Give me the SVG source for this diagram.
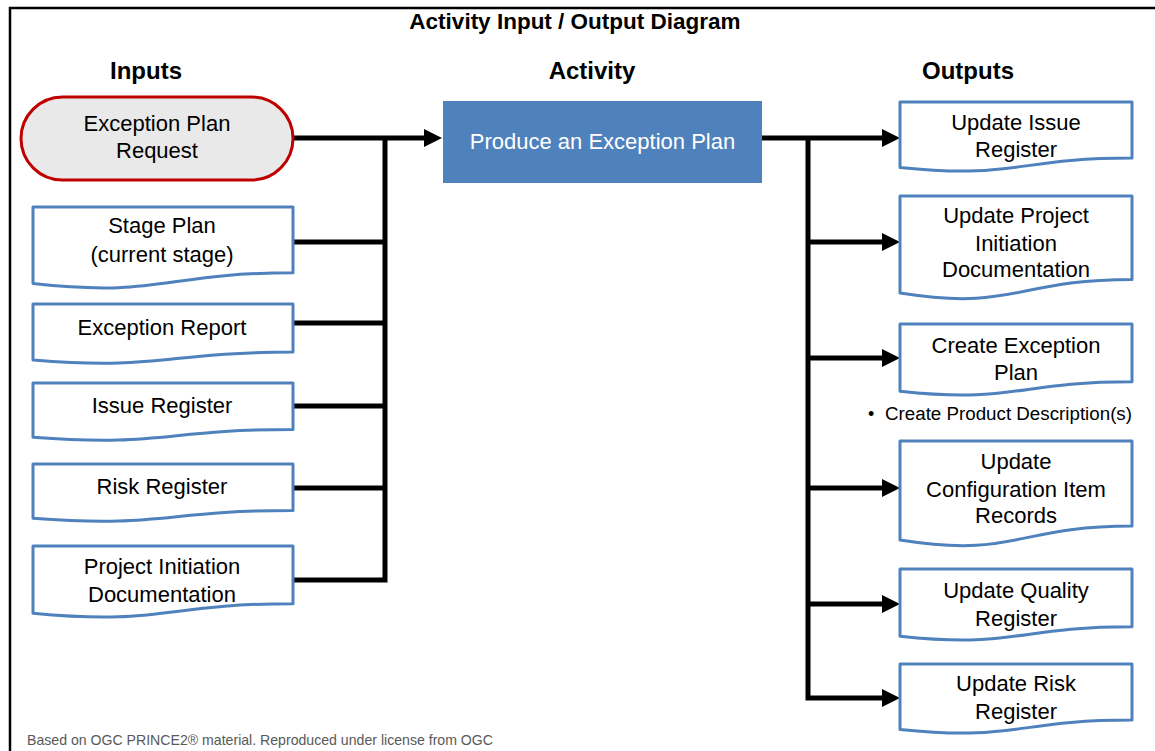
<svg xmlns="http://www.w3.org/2000/svg" width="1155" height="751" viewBox="0 0 1155 751">
<style>
  .t { font-family: "Liberation Sans", Arial, sans-serif; font-size: 22px; fill: #000; text-anchor: middle; }
  .h { font-family: "Liberation Sans", Arial, sans-serif; font-size: 24px; font-weight: bold; fill: #000; text-anchor: middle; }
  .doc { fill: #fff; stroke: #4F81BD; stroke-width: 3; stroke-linejoin: round; }
  .conn { fill: none; stroke: #000; stroke-width: 5; stroke-linejoin: miter; }
  .arr { marker-end: url(#ah); }
</style>
<defs>
  <marker id="ah" markerUnits="userSpaceOnUse" markerWidth="18" markerHeight="18" refX="4" refY="9" orient="auto">
    <path d="M0,0 L18,9 L0,18 Z" fill="#000"/>
  </marker>
</defs>
<rect width="1155" height="751" fill="#fff"/>
<rect x="10" y="8" width="1170" height="780" fill="none" stroke="#000" stroke-width="2.5"/>

<text x="575" y="29" class="h" style="font-size:22.5px">Activity Input / Output Diagram</text>
<text x="146" y="79" class="h">Inputs</text>
<text x="592" y="79" class="h">Activity</text>
<text x="968" y="79" class="h">Outputs</text>

<g id="connectors">
  <path class="conn arr" d="M293,138 H428"/>
  <path class="conn" d="M293,580 H385 V138"/>
  <path class="conn" d="M293,242 H385"/>
  <path class="conn" d="M293,323 H385"/>
  <path class="conn" d="M293,406 H385"/>
  <path class="conn" d="M293,488 H385"/>
  <path class="conn arr" d="M762,138 H886"/>
  <path class="conn arr" d="M808,138 V698 H886"/>
  <path class="conn arr" d="M808,242 H886"/>
  <path class="conn arr" d="M808,358 H886"/>
  <path class="conn arr" d="M808,488 H886"/>
  <path class="conn arr" d="M808,604 H886"/>
</g>

<g id="in-request">
  <rect x="21" y="97" width="272" height="83" rx="41.5" fill="#E9E9E9" stroke="#C00000" stroke-width="3"/>
  <text x="157" y="131" class="t">Exception Plan</text>
  <text x="157" y="158" class="t">Request</text>
</g>
<g id="in-stageplan">
  <path class="doc" d="M33,207 H293 V272.8 C163,272.8 163,297.8 33,283.6 Z"/>
  <text x="162" y="233" class="t">Stage Plan</text>
  <text x="162" y="262" class="t">(current stage)</text>
</g>
<g id="in-exreport">
  <path class="doc" d="M33,304 H293 V352.1 C163,352.1 163,370.5 33,360 Z"/>
  <text x="162" y="335" class="t">Exception Report</text>
</g>
<g id="in-issue">
  <path class="doc" d="M33,383 H293 V429.5 C163,429.5 163,447.2 33,437.2 Z"/>
  <text x="162" y="413" class="t">Issue Register</text>
</g>
<g id="in-risk">
  <path class="doc" d="M33,464 H293 V510.5 C163,510.5 163,528.2 33,518.2 Z"/>
  <text x="162" y="494" class="t">Risk Register</text>
</g>
<g id="in-pid">
  <path class="doc" d="M33,546 H293 V603.7 C163,603.7 163,625.7 33,613.2 Z"/>
  <text x="162" y="574" class="t">Project Initiation</text>
  <text x="162" y="602" class="t">Documentation</text>
</g>

<g id="activity">
  <rect x="443" y="101" width="319" height="82" fill="#4F81BD"/>
  <text x="602.5" y="149" class="t" style="fill:#fff">Produce an Exception Plan</text>
</g>

<g id="out-issue">
  <path class="doc" d="M900,102 H1132 V158.1 C1016,158.1 1016,179.5 900,167.4 Z"/>
  <text x="1016" y="130" class="t">Update Issue</text>
  <text x="1016" y="157" class="t">Register</text>
</g>
<g id="out-pid">
  <path class="doc" d="M900,196 H1132 V279.4 C1016,279.4 1016,311.2 900,293.1 Z"/>
  <text x="1016" y="223" class="t">Update Project</text>
  <text x="1016" y="251" class="t">Initiation</text>
  <text x="1016" y="277" class="t">Documentation</text>
</g>
<g id="out-explan">
  <path class="doc" d="M900,324 H1132 V381.7 C1016,381.7 1016,403.7 900,391.2 Z"/>
  <text x="1016" y="353" class="t">Create Exception</text>
  <text x="1016" y="380" class="t">Plan</text>
</g>
<g id="out-pd">
  <text x="868" y="420" style="font-family:'Liberation Sans',Arial,sans-serif;font-size:18px;fill:#000">•</text>
  <text x="885" y="420" style="font-family:'Liberation Sans',Arial,sans-serif;font-size:18px;fill:#000" textLength="247" lengthAdjust="spacingAndGlyphs">Create Product Description(s)</text>
</g>
<g id="out-cir">
  <path class="doc" d="M900,441 H1132 V526 C1016,526 1016,558.4 900,540 Z"/>
  <text x="1016" y="469" class="t">Update</text>
  <text x="1016" y="497" class="t">Configuration Item</text>
  <text x="1016" y="523" class="t">Records</text>
</g>
<g id="out-quality">
  <path class="doc" d="M900,569 H1132 V626.7 C1016,626.7 1016,648.7 900,636.2 Z"/>
  <text x="1016" y="598" class="t">Update Quality</text>
  <text x="1016" y="626" class="t">Register</text>
</g>
<g id="out-risk">
  <path class="doc" d="M900,664 H1132 V720.1 C1016,720.1 1016,741.5 900,729.4 Z"/>
  <text x="1016" y="691" class="t">Update Risk</text>
  <text x="1016" y="719" class="t">Register</text>
</g>

<text x="27" y="745" style="font-family:'Liberation Sans',Arial,sans-serif;font-size:14.5px;fill:#595959" textLength="466" lengthAdjust="spacingAndGlyphs">Based on OGC PRINCE2® material. Reproduced under license from OGC</text>
</svg>
